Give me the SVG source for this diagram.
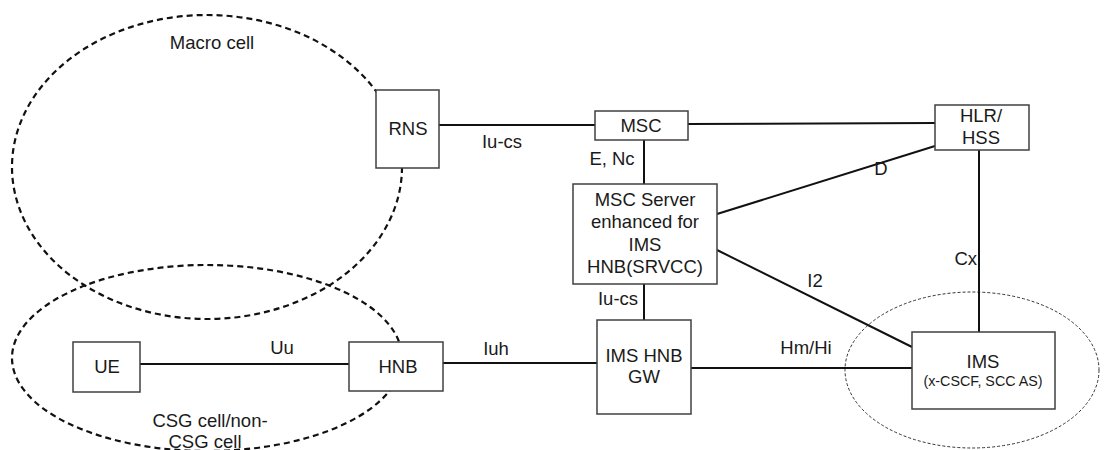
<svg xmlns="http://www.w3.org/2000/svg" width="1105" height="450" viewBox="0 0 1105 450">
<style>
text{font-family:"Liberation Sans",Arial,sans-serif;font-size:18.5px;fill:#1a1a1a}
.m{text-anchor:middle}
.box{fill:#fff;stroke:#404040;stroke-width:1.5}
.ln{stroke:#111;stroke-width:2;fill:none}
.cell{fill:none;stroke:#111;stroke-width:2.2;stroke-dasharray:6,4}
.ims{fill:none;stroke:#333;stroke-width:1;stroke-dasharray:3,2}
.sm{font-size:14.3px}
</style>
<g id="cells">
<ellipse class="cell" cx="207" cy="167" rx="195" ry="152"/>
<ellipse class="cell" cx="207" cy="358" rx="195" ry="93"/>
<ellipse class="ims" cx="972" cy="370" rx="127" ry="78"/>
<text class="m" x="212" y="49">Macro cell</text>
<text class="m" x="210" y="427">CSG cell/non-</text>
<text class="m" x="205" y="448">CSG cell</text>
</g>
<g id="connectors">
<line class="ln" x1="439" y1="125" x2="595" y2="125"/>
<line class="ln" x1="688" y1="124" x2="935" y2="123"/>
<line class="ln" x1="644" y1="140" x2="644" y2="184"/>
<line class="ln" x1="717" y1="214" x2="935" y2="146"/>
<line class="ln" x1="717" y1="250" x2="912" y2="347"/>
<line class="ln" x1="979" y1="150" x2="979" y2="332"/>
<line class="ln" x1="644" y1="284" x2="644" y2="320"/>
<line class="ln" x1="140" y1="364" x2="349" y2="364"/>
<line class="ln" x1="443" y1="363" x2="597" y2="363"/>
<line class="ln" x1="691" y1="368" x2="912" y2="368"/>
<text class="m" x="502" y="148">Iu-cs</text>
<text class="m" x="612" y="165">E, Nc</text>
<text class="m" x="881" y="175">D</text>
<text x="977" y="265" text-anchor="end">Cx</text>
<text class="m" x="815" y="287">I2</text>
<text class="m" x="618" y="305">Iu-cs</text>
<text class="m" x="282" y="354">Uu</text>
<text class="m" x="496" y="355">Iuh</text>
<text class="m" x="806" y="354">Hm/Hi</text>
</g>
<g id="RNS">
<rect class="box" x="376" y="90" width="63" height="78"/>
<text class="m" x="408" y="135">RNS</text>
</g>
<g id="MSC">
<rect class="box" x="595" y="111" width="93" height="29"/>
<text class="m" x="641" y="132">MSC</text>
</g>
<g id="HLR">
<rect class="box" x="935" y="105" width="94" height="45"/>
<text class="m" x="981" y="122">HLR/</text>
<text class="m" x="981" y="144">HSS</text>
</g>
<g id="MSCServer">
<rect class="box" x="573" y="184" width="144" height="100"/>
<text class="m" x="645" y="206">MSC Server</text>
<text class="m" x="645" y="228">enhanced for</text>
<text class="m" x="645" y="251">IMS</text>
<text class="m" x="645" y="273">HNB(SRVCC)</text>
</g>
<g id="UE">
<rect class="box" x="73" y="342" width="67" height="50"/>
<text class="m" x="107" y="373">UE</text>
</g>
<g id="HNB">
<rect class="box" x="349" y="342" width="94" height="49"/>
<text class="m" x="398" y="373">HNB</text>
</g>
<g id="GW">
<rect class="box" x="597" y="320" width="94" height="94"/>
<text class="m" x="644" y="362">IMS HNB</text>
<text class="m" x="644" y="383">GW</text>
</g>
<g id="IMS">
<rect class="box" x="912" y="332" width="143" height="77"/>
<text class="m" x="983" y="368">IMS</text>
<text class="m sm" x="983" y="386">(x-CSCF, SCC AS)</text>
</g>
</svg>
